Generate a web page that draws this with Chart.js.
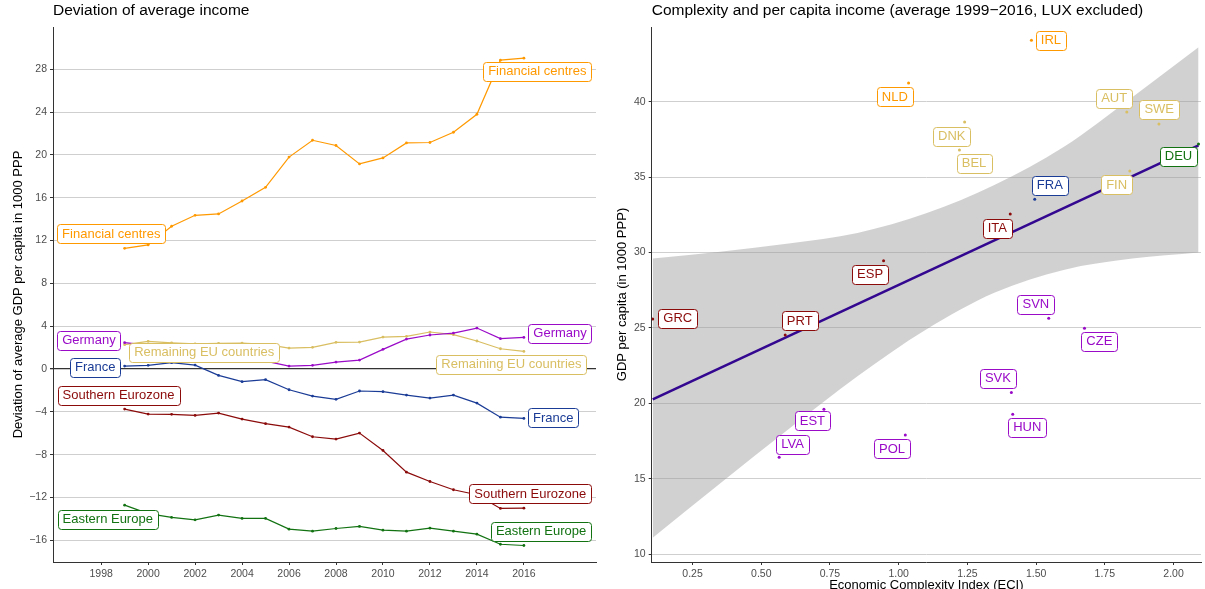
<!DOCTYPE html>
<html><head><meta charset="utf-8">
<script src="https://cdn.jsdelivr.net/npm/chart.js@4.4.1/dist/chart.umd.min.js"></script>
<style>
html,body{margin:0;padding:0;overflow:hidden;background:#fff;width:1205px;height:589px;}
#left{position:absolute;left:0;top:0;}
#right{position:absolute;left:600px;top:0;}
</style></head><body>
<canvas id="left" width="600" height="600"></canvas>
<canvas id="right" width="605" height="600"></canvas>
<script>
// ---------- Left panel data ----------
const years = [1999,2000,2001,2002,2003,2004,2005,2006,2007,2008,2009,2010,2011,2012,2013,2014,2015,2016];
const financialCentres = [11.28,11.6,13.34,14.36,14.49,15.7,16.98,19.8,21.37,20.88,19.16,19.72,21.12,21.16,22.12,23.8,28.85,29.04];
const germany = [2.47,2.25,2.0,1.7,1.4,1.1,0.75,0.28,0.35,0.65,0.84,1.84,2.8,3.18,3.36,3.83,2.84,2.96];
const remainingEU = [2.28,2.59,2.45,2.35,2.4,2.43,2.3,1.96,2.03,2.5,2.52,2.99,3.06,3.46,3.21,2.62,1.9,1.65];
const france = [0.28,0.35,0.6,0.37,-0.59,-1.18,-0.99,-1.93,-2.52,-2.83,-2.05,-2.11,-2.43,-2.71,-2.43,-3.18,-4.49,-4.61];
const southernEurozone = [-3.74,-4.2,-4.23,-4.33,-4.11,-4.67,-5.1,-5.42,-6.32,-6.54,-5.98,-7.6,-9.63,-10.5,-11.27,-11.74,-13.02,-12.99];
const easternEurope = [-12.71,-13.5,-13.86,-14.08,-13.64,-13.95,-13.95,-14.95,-15.14,-14.89,-14.7,-15.05,-15.14,-14.86,-15.14,-15.42,-16.36,-16.48];
const leftXTicks = [1998,2000,2002,2004,2006,2008,2010,2012,2014,2016];
const leftYTicks = [-16,-12,-8,-4,0,4,8,12,16,20,24,28];

// ---------- Right panel data ----------
const countries = ['IRL','NLD','AUT','SWE','DNK','BEL','DEU','FIN','FRA','ITA','ESP','GRC','PRT','SVN','CZE','SVK','HUN','POL','EST','LVA'];
const eci = [1.483,1.036,1.830,1.947,1.240,1.221,2.091,1.841,1.495,1.406,0.945,0.105,0.587,1.546,1.676,1.410,1.415,1.024,0.728,0.565];
const gdpPerCapita = [44.08,41.24,39.32,38.52,38.65,36.8,37.2,35.4,33.54,32.55,29.46,25.59,24.53,25.65,24.99,20.73,19.29,17.9,19.62,16.44];
const countryGroup = ['Financial centres','Financial centres','Remaining EU countries','Remaining EU countries','Remaining EU countries','Remaining EU countries','Germany','Remaining EU countries','France','Southern Eurozone','Southern Eurozone','Southern Eurozone','Southern Eurozone','Eastern Europe','Eastern Europe','Eastern Europe','Eastern Europe','Eastern Europe','Eastern Europe','Eastern Europe'];
const fitX = [0.105, 2.091];
const fitY = [20.27, 37.1];
const bandX = [0.105,0.35,0.6,0.85,1.1,1.35,1.6,1.85,2.091];
const bandUpper = [29.6,30.05,30.6,31.3,32.6,34.5,37.0,40.3,43.6];
const bandLower = [11.1,14.7,18.3,21.8,24.9,27.35,28.85,29.6,30.0];
const rightXTicks = [0.25,0.5,0.75,1.0,1.25,1.5,1.75,2.0];
const rightYTicks = [10,15,20,25,30,35,40];

// ---------- Styles ----------
const FONT = "'Liberation Sans', Arial, Helvetica, sans-serif";
Chart.defaults.font.family = FONT;
const leftColors = {
  'Financial centres':'#FF9900','Germany':'#9A0BC8','Remaining EU countries':'#D9BE62',
  'France':'#1B3C96','Southern Eurozone':'#8B0A0A','Eastern Europe':'#127212'
};
const rightColors = {
  'Financial centres':'#FF9900','Germany':'#127212','Remaining EU countries':'#D9BE62',
  'France':'#1B3C96','Southern Eurozone':'#8B0A0A','Eastern Europe':'#9A0BC8'
};
// label anchor positions (data coordinates)
const leftLabelPos = [
  ['Financial centres',1998.43,12.65],['Financial centres',2016.57,27.86],
  ['Germany',1997.48,2.72],['Remaining EU countries',2002.39,1.61],
  ['France',1997.75,0.18],['Southern Eurozone',1998.74,-2.46],['Eastern Europe',1998.28,-14.03],
  ['Germany',2017.54,3.37],['Remaining EU countries',2015.47,0.46],['France',2017.25,-4.54],
  ['Southern Eurozone',2016.27,-11.63],['Eastern Europe',2016.73,-15.12]
];
const rightLabelPos = {
  IRL:[1.554,44.09],NLD:[0.986,40.34],AUT:[1.784,40.25],SWE:[1.948,39.52],DNK:[1.193,37.74],
  BEL:[1.274,35.92],DEU:[2.018,36.38],FIN:[1.793,34.50],FRA:[1.550,34.48],ITA:[1.359,31.64],
  ESP:[0.896,28.59],GRC:[0.196,25.64],PRT:[0.640,25.50],SVN:[1.499,26.60],CZE:[1.730,24.14],
  SVK:[1.361,21.68],HUN:[1.468,18.44],POL:[0.976,17.0],EST:[0.686,18.86],LVA:[0.614,17.32]
};

// ---------- Plugins ----------
const boxLabels = {
  id:'boxLabels',
  afterDatasetsDraw(chart, args, opts){
    if(!opts.items) return;
    const {ctx} = chart; const xs = chart.scales.x, ys = chart.scales.y;
    ctx.save();
    ctx.font = '13px ' + FONT;
    ctx.textAlign='center'; ctx.textBaseline='middle';
    for(const it of opts.items){
      const cx = xs.getPixelForValue(it.x), cy = ys.getPixelForValue(it.y);
      const w = ctx.measureText(it.text).width + 10, h = 18.5;
      ctx.beginPath();
      ctx.roundRect(Math.round(cx - w/2)+0.5, Math.round(cy - h/2)+0.5, Math.round(w), Math.round(h), 3);
      ctx.fillStyle='#fff'; ctx.fill();
      ctx.lineWidth=1; ctx.strokeStyle=it.color; ctx.stroke();
      ctx.fillStyle=it.color; ctx.fillText(it.text, cx, cy+0.5);
    }
    ctx.restore();
  }
};
const panelTitle = {
  id:'panelTitle',
  afterDraw(chart, args, opts){
    const {ctx, chartArea} = chart;
    ctx.save();
    ctx.font = '15.5px ' + FONT; ctx.fillStyle='#000';
    ctx.textAlign='left'; ctx.textBaseline='middle';
    ctx.fillText(opts.text, chartArea.left, 11);
    ctx.restore();
  }
};
Chart.register(boxLabels, panelTitle);

const tickFont = {size:10.5, family:FONT};
const axisCommon = (ticksArr, fmt) => ({
  type:'linear',
  afterBuildTicks: s => { s.ticks = ticksArr.map(v => ({value:v})); },
  ticks:{font:tickFont, color:'#4D4D4D', autoSkip:false, maxRotation:0, callback: fmt},
  border:{display:true, color:'#333', width:1}
});

// ---------- Left chart ----------
const leftSeries = [
  ['Financial centres', financialCentres],['Germany', germany],['Remaining EU countries', remainingEU],
  ['France', france],['Southern Eurozone', southernEurozone],['Eastern Europe', easternEurope]
];
new Chart(document.getElementById('left'), {
  type:'line',
  data:{datasets: leftSeries.map(([name, vals]) => ({
    label:name, data: years.map((yr,i)=>({x:yr, y:vals[i]})),
    borderColor:leftColors[name], backgroundColor:leftColors[name], borderWidth:1.2,
    pointRadius:1.4, pointBorderWidth:0, tension:0, fill:false
  }))},
  options:{
    responsive:false, animation:false, devicePixelRatio:1,
    layout:{padding:{top:27, right:2, left:0, bottom:0}},
    plugins:{legend:{display:false}, tooltip:{enabled:false},
      panelTitle:{text:'Deviation of average income'},
      boxLabels:{items: leftLabelPos.map(([t,x,y]) => ({text:t, x, y, color:leftColors[t]}))}
    },
    scales:{
      x: Object.assign(axisCommon(leftXTicks, v => String(v)), {
        min:1995.95, max:2019.07,
        grid:{drawOnChartArea:false, drawTicks:true, tickLength:3, tickColor:'#333'},
        afterFit: s => { s.height = 38; }
      }),
      y: Object.assign(axisCommon(leftYTicks, v => String(v).replace('-', '\u2212')), {
        min:-18.02, max:31.95,
        grid:{drawOnChartArea:true, drawTicks:true, tickLength:3, tickColor:'#333',
          color: c => (c.tick && c.tick.value === 0) ? '#333' : '#CFCFCF',
          lineWidth: c => (c.tick && c.tick.value === 0) ? 1.3 : 1},
        title:{display:true, text:'Deviation of average GDP per capita in 1000 PPP', color:'#000',
          font:{size:13, family:FONT}, padding:{top:10.5, bottom:0}},
        afterFit: s => { s.width = 53; }
      })
    }
  }
});

// ---------- Right chart ----------
const groupOrder = ['Financial centres','Remaining EU countries','Germany','France','Southern Eurozone','Eastern Europe'];
const pointSets = groupOrder.map(g => ({
  type:'scatter', label:g, order:1,
  data: countries.map((c,i)=>({x:eci[i], y:gdpPerCapita[i], g:countryGroup[i]})).filter(p=>p.g===g),
  backgroundColor:rightColors[g], borderWidth:0, pointRadius:1.5, showLine:false
}));
new Chart(document.getElementById('right'), {
  type:'line',
  data:{datasets:[
    {label:'upper', data: bandX.map((x,i)=>({x, y:bandUpper[i]})), order:3, fill:'+1',
      backgroundColor:'rgba(153,153,153,0.45)', borderWidth:0, pointRadius:0, cubicInterpolationMode:'monotone'},
    {label:'lower', data: bandX.map((x,i)=>({x, y:bandLower[i]})), order:4, fill:false,
      borderWidth:0, pointRadius:0, cubicInterpolationMode:'monotone'},
    {label:'fit', data: fitX.map((x,i)=>({x, y:fitY[i]})), order:2, fill:false,
      borderColor:'#33078F', borderWidth:2.6, pointRadius:0},
    ...pointSets
  ]},
  options:{
    responsive:false, animation:false, devicePixelRatio:1,
    layout:{padding:{top:27, right:2, left:0, bottom:0}},
    plugins:{legend:{display:false}, tooltip:{enabled:false},
      panelTitle:{text:'Complexity and per capita income (average 1999\u22122016, LUX excluded)'},
      boxLabels:{items: countries.map((c,i)=>({text:c, x:rightLabelPos[c][0], y:rightLabelPos[c][1], color:rightColors[countryGroup[i]]}))}
    },
    scales:{
      x: Object.assign(axisCommon(rightXTicks, v => v.toFixed(2)), {
        min:0.1013, max:2.100,
        grid:{drawOnChartArea:false, drawTicks:true, tickLength:3, tickColor:'#333'},
        title:{display:true, text:'Economic Complexity Index (ECI)', color:'#000',
          font:{size:13, family:FONT}, padding:{top:0, bottom:7.2}},
        afterFit: s => { s.height = 38; }
      }),
      y: Object.assign(axisCommon(rightYTicks, v => String(v)), {
        min:9.49, max:44.95,
        grid:{drawOnChartArea:true, drawTicks:true, tickLength:3, tickColor:'#333', color:'#CFCFCF', lineWidth:1},
        title:{display:true, text:'GDP per capita (in 1000 PPP)', color:'#000',
          font:{size:13, family:FONT}, padding:{top:15, bottom:0}},
        afterFit: s => { s.width = 51.7; }
      })
    }
  }
});
</script>
</body></html>
